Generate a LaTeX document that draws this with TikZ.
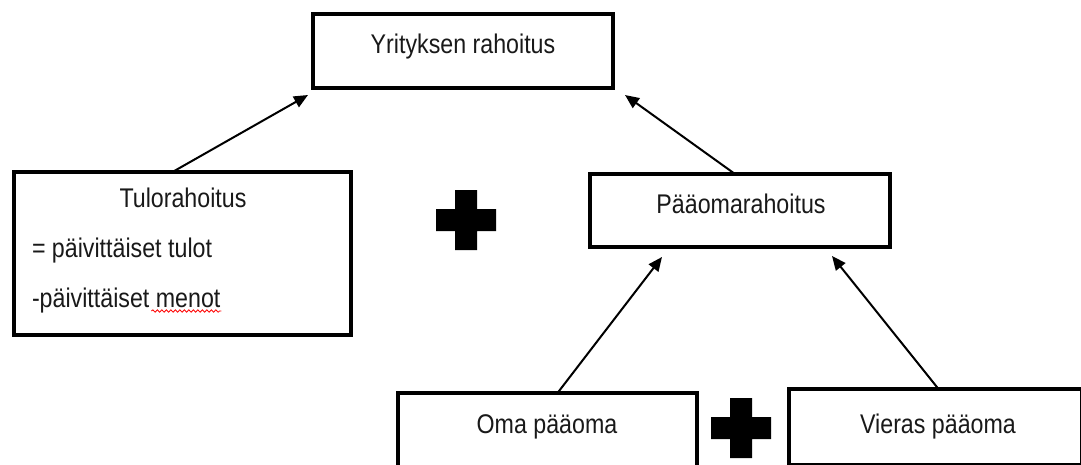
\documentclass[tikz,border=0pt]{standalone}
\usepackage{fontspec}
\setmainfont{Liberation Sans}[FakeStretch=0.86]
\usetikzlibrary{arrows.meta,calc,decorations.pathmorphing}

\tikzset{
  box/.style={draw=black, line width=4pt, inner sep=0pt, outer sep=0pt, fill=white},
  lbl/.style={inner sep=0pt, outer sep=0pt, font=\fontsize{27}{32}\selectfont, text=black!90},
  link/.style={line width=2pt, -{Triangle[length=14pt,width=12pt]}},
  plussign/.style={fill=black, draw=none},
  typo/.style={draw=red, line width=0.8pt, decorate,
    decoration={snake, amplitude=1.2pt, segment length=4.5pt}}
}

\begin{document}
\begin{tikzpicture}[x=1pt, y=-1pt]
  \useasboundingbox (0,0) rectangle (1081,464);
  \fill[white] (0,0) rectangle (1081,464);
  \clip (0,0) rectangle (1081,464);

  % boxes
  \node[box, minimum width=300pt, minimum height=74pt]  (top)    at (463,51)     {};
  \node[box, minimum width=337pt, minimum height=163pt] (tulo)   at (182.5,253.5) {};
  \node[box, minimum width=300pt, minimum height=73pt]  (pa)     at (740,210.5)  {};
  \node[box, minimum width=299pt, minimum height=77pt]  (oma)    at (547.5,431.5) {};
  \node[box, minimum width=293pt, minimum height=76pt]  (vieras) at (935.5,427)  {};

  % labels
  \node[lbl, anchor=base] (ttop) at (463,53) {Yrityksen rahoitus};
  \node[lbl, anchor=base] (ttulo) at (183,207) {Tulorahoitus};
  \node[lbl, anchor=base west] (l1) at (32,257) {= päivittäiset tulot};
  \node[lbl, anchor=base west] (l2) at (32,307) {-päivittäiset menot};
  \node[lbl, anchor=base] (tpa) at (741,213) {Pääomarahoitus};
  \node[lbl, anchor=base] (toma) at (547,433) {Oma pääoma};
  \node[lbl, anchor=base] (tvieras) at (938,433) {Vieras pääoma};

  % spell-check underline
  \draw[typo] ($(l2.base east)+(-69,4)$) -- ($(l2.base east)+(1,4)$);

  % plus signs
  \coordinate (p1) at (466,220);
  \coordinate (p2) at (741,428);
  \foreach \c in {p1,p2} {
    \fill[plussign] ($(\c)+(-11,-30)$) -- ($(\c)+(11,-30)$) -- ($(\c)+(11,-11)$)
      -- ($(\c)+(30,-11)$) -- ($(\c)+(30,11)$) -- ($(\c)+(11,11)$)
      -- ($(\c)+(11,30)$) -- ($(\c)+(-11,30)$) -- ($(\c)+(-11,11)$)
      -- ($(\c)+(-30,11)$) -- ($(\c)+(-30,-11)$) -- ($(\c)+(-11,-11)$) -- cycle;
  }

  % connectors
  \draw[link] ($(tulo.north)+(-10,0)$)  -- ($(top.south west)+(-5,7)$);
  \draw[link] ($(pa.north)+(-5,0)$)     -- ($(top.south east)+(12,7)$);
  \draw[link] ($(oma.north)+(10,0)$)    -- ($(pa.south west)+(72,10)$);
  \draw[link] ($(vieras.north)+(3,0)$)  -- ($(pa.south east)+(-58,9)$);
\end{tikzpicture}
\end{document}
